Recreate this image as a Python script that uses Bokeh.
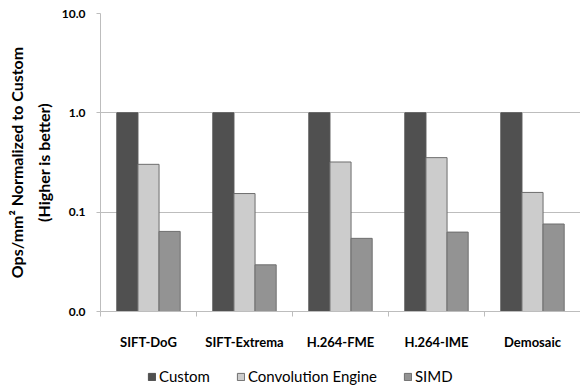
from bokeh.plotting import figure
from bokeh.layouts import column
from bokeh.models import (Range1d, FixedTicker, CustomJSTickFormatter, Legend,
                          LegendItem, ColumnDataSource)
from bokeh.transform import dodge
from bokeh.embed import file_html
from bokeh.resources import INLINE

categories = ["SIFT-DoG", "SIFT-Extrema", "H.264-FME", "H.264-IME", "Demosaic"]
custom = [1.0, 1.0, 1.0, 1.0, 1.0]
conv_engine = [0.303, 0.154, 0.32, 0.354, 0.158]
simd = [0.064, 0.0295, 0.0545, 0.063, 0.076]
series_names = ["Custom", "Convolution Engine", "SIMD"]
y_ticks = [0.01, 0.1, 1.0, 10.0]
y_label = "Ops/mm\u00b2 Normalized to Custom\n(Higher is better)"

FONT = "Lato"
colors = ["#505050", "#cccccc", "#939393"]
outlines = ["#505050", "#6e6e6e", "#6e6e6e"]
grid_color = "#bdbdbd"

n = len(categories)
centers = [i + 0.5 for i in range(n)]
bottom = y_ticks[0]

src = ColumnDataSource(dict(x=centers, custom=custom, ce=conv_engine, simd=simd))

p = figure(width=580, height=360, y_axis_type="log",
           x_range=Range1d(0, n), y_range=Range1d(y_ticks[0], y_ticks[-1]),
           output_backend="svg", toolbar_location=None,
           min_border_left=100, min_border_right=0, min_border_top=13,
           min_border_bottom=49)
p.outline_line_color = None
p.background_fill_color = "white"
p.border_fill_color = "white"

bw = 0.22
offsets = [-bw, 0.0, bw]
fields = ["custom", "ce", "simd"]
for f, off, c, lc in zip(fields, offsets, colors, outlines):
    p.vbar(x=dodge("x", off, range=p.x_range), top=f, bottom=bottom, width=bw,
           source=src, fill_color=c, line_color=lc, line_width=1)

# y axis
ya = p.yaxis[0]
ya.ticker = FixedTicker(ticks=y_ticks, minor_ticks=[])
ya.formatter = CustomJSTickFormatter(code="return tick.toFixed(1);")
ya.axis_label = y_label
ya.axis_label_text_font = FONT
ya.axis_label_text_font_style = "bold"
ya.axis_label_text_font_size = "16px"
ya.axis_label_text_line_height = 1.4
ya.axis_label_text_color = "black"
ya.axis_label_standoff = 6
ya.major_label_text_font = FONT
ya.major_label_text_font_style = "bold"
ya.major_label_text_font_size = "12px"
ya.major_label_text_color = "black"
ya.major_label_standoff = 11
ya.major_tick_out = 4
ya.major_tick_in = 0
ya.major_tick_line_color = grid_color
ya.minor_tick_line_color = None
ya.axis_line_color = grid_color

# x axis
xa = p.xaxis[0]
xa.ticker = FixedTicker(ticks=centers, minor_ticks=list(range(n + 1)))
xa.formatter = CustomJSTickFormatter(args=dict(names=categories),
                                     code="return names[Math.round(tick - 0.5)];")
xa.major_tick_line_color = None
xa.major_tick_out = 0
xa.major_tick_in = 0
xa.minor_tick_out = 5
xa.minor_tick_in = 0
xa.minor_tick_line_color = grid_color
xa.axis_line_color = grid_color
xa.major_label_text_font = FONT
xa.major_label_text_font_style = "bold"
xa.major_label_text_font_size = "13px"
xa.major_label_text_color = "black"
xa.major_label_standoff = 17

p.xgrid.grid_line_color = None
p.ygrid.grid_line_color = grid_color
p.ygrid.ticker = FixedTicker(ticks=y_ticks)

# legend strip below the chart (same series, drawn outside its visible range)
lf = figure(width=580, height=27, x_range=Range1d(0, n), y_range=Range1d(20, 30),
            output_backend="svg", toolbar_location=None,
            x_axis_location=None, y_axis_location=None,
            min_border_left=0, min_border_right=0, min_border_top=0, min_border_bottom=0)
lf.outline_line_color = None
lf.xgrid.visible = False
lf.ygrid.visible = False
items = []
for nm, f, off, c, lc in zip(series_names, fields, offsets, colors, outlines):
    r = lf.vbar(x=dodge("x", off, range=lf.x_range), top=f, bottom=bottom, width=bw,
                source=src, fill_color=c, line_color=lc)
    items.append(LegendItem(label=nm, renderers=[r]))

legend = Legend(items=items, orientation="horizontal", location=(47, 2))
legend.label_text_font = FONT
legend.label_text_font_size = "15px"
legend.label_text_color = "black"
legend.glyph_width = 9
legend.glyph_height = 9
legend.label_standoff = 3
legend.spacing = 26
legend.padding = 0
legend.margin = 0
legend.border_line_color = None
legend.background_fill_alpha = 0
lf.add_layout(legend, "center")

layout = column(p, lf, spacing=0)
open("out.html", "w").write(file_html(layout, INLINE))
